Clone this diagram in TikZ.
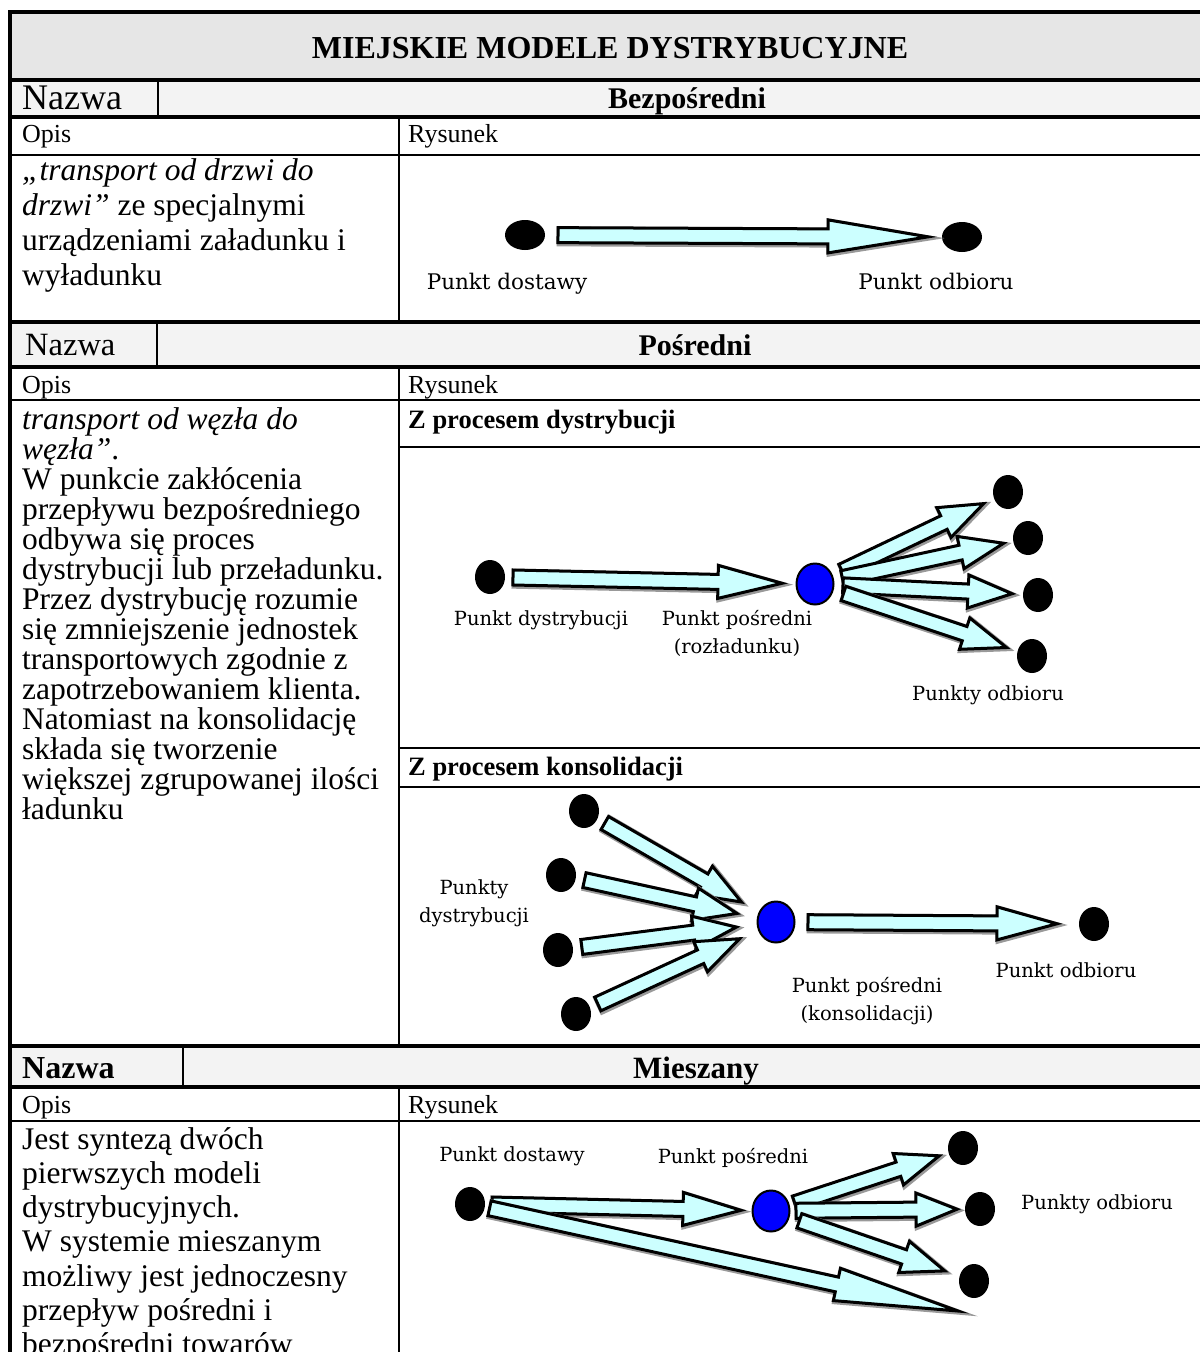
\documentclass[tikz,border=0pt]{standalone}
\usepackage{fontspec}
\setmainfont{Liberation Serif}
\newfontfamily\lblfont{DejaVu Serif}
\usetikzlibrary{calc,shapes.geometric}
\definecolor{flowcyan}{HTML}{CCFFFF}
\definecolor{headgray}{HTML}{E6E6E6}
\definecolor{rowgray}{HTML}{F3F3F3}
\newcommand{\shaftw}{7.5pt}
\newcommand{\headw}{16.5pt}
% block arrow: from, to, gap at start, gap at end, head length
\newcommand{\flowarrow}[5]{%
  \path ($(#1)!#3pt!(#2)$) coordinate (fa-t)
        ($(#2)!#4pt!(#1)$) coordinate (fa-p);
  \path ($(fa-p)!#5pt!(fa-t)$) coordinate (fa-b);
  \filldraw[flow] ($(fa-t)!\shaftw!90:(fa-p)$) -- ($(fa-b)!\shaftw!90:(fa-p)$)
    -- ($(fa-b)!\headw!90:(fa-p)$) -- (fa-p) -- ($(fa-b)!\headw!-90:(fa-p)$)
    -- ($(fa-b)!\shaftw!-90:(fa-p)$) -- ($(fa-t)!\shaftw!-90:(fa-p)$) -- cycle;
}
\begin{document}
\begin{tikzpicture}[x=1pt,y=-1pt,
  thickline/.style={line width=4pt},
  thinline/.style={line width=1.6pt},
  titletext/.style={anchor=base,inner sep=0pt,font=\bfseries\fontsize{32pt}{36pt}\selectfont},
  plain/.style={anchor=base west,inner sep=0pt,font=\fontsize{32.5pt}{34pt}\selectfont},
  body/.style={anchor=base west,inner sep=0pt,font=\fontsize{31.5pt}{34pt}\selectfont},
  caption/.style={anchor=base west,inner sep=0pt,font=\fontsize{26pt}{30pt}\selectfont},
  modelname/.style={anchor=base,inner sep=0pt,font=\bfseries\fontsize{30pt}{34pt}\selectfont},
  subhead/.style={anchor=base west,inner sep=0pt,font=\bfseries\fontsize{26.5pt}{30pt}\selectfont},
  lbl/.style={anchor=north,inner sep=0pt,align=center,font=\lblfont\fontsize{19.5pt}{28pt}\selectfont},
  lblbig/.style={lbl,font=\lblfont\fontsize{21.5pt}{28pt}\selectfont},
  dot/.style={ellipse,fill=black,inner sep=0pt,minimum width=30pt,minimum height=34pt},
  flatdot/.style={dot,minimum width=40pt,minimum height=30pt},
  hub/.style={dot,fill=blue,draw=black,line width=2pt,minimum width=37pt,minimum height=41pt},
  flow/.style={fill=flowcyan,draw=black,line width=3pt,
    preaction={draw=black!40,line width=5pt,transform canvas={shift={(1.2pt,-1.2pt)}}}}]
\useasboundingbox (0,0) rectangle (1200,1352);
% table
\fill[headgray] (10,12) rectangle (1200,80);
\fill[rowgray] (10,80) rectangle (1200,117);
\fill[rowgray] (10,322) rectangle (1200,367);
\fill[rowgray] (10,1046) rectangle (1200,1087);
\foreach \y in {12,80,117,322,367,1046,1087} {
  \draw[thickline] (8,\y) -- (1200,\y);
}
\foreach \y in {155,400,1121} {
  \draw[thinline] (10,\y) -- (1200,\y);
}
\foreach \y in {447,748,787} {
  \draw[thinline] (399,\y) -- (1200,\y);
}
\draw[thickline] (10,10) -- (10,1352);
\draw[thinline] (158,80) -- (158,117);
\draw[thinline] (157,322) -- (157,367);
\draw[thinline] (183,1046) -- (183,1087);
\draw[thinline] (399,117) -- (399,322) (399,367) -- (399,1046) (399,1087) -- (399,1352);
% headings
\node[titletext] (title) at (610,58) {MIEJSKIE MODELE DYSTRYBUCYJNE};
\node[plain,font=\fontsize{36pt}{36pt}\selectfont] (naz1) at (22,109) {Nazwa};
\node[modelname] (bez) at (687,108) {Bezpośredni};
\node[caption] (opis1) at (22,142) {Opis};
\node[caption] (rys1) at (408,142) {Rysunek};
\node[plain] (naz2) at (25,355) {Nazwa};
\node[modelname] (pos) at (695,355) {Pośredni};
\node[caption] (opis2) at (22,393) {Opis};
\node[caption] (rys2) at (408,393) {Rysunek};
\node[subhead] (zdys) at (408,428) {Z procesem dystrybucji};
\node[subhead] (zkon) at (408,775) {Z procesem konsolidacji};
\node[plain,font=\bfseries\fontsize{32pt}{34pt}\selectfont] (naz3) at (22,1078) {Nazwa};
\node[modelname,font=\bfseries\fontsize{31pt}{34pt}\selectfont] (mie) at (696,1078) {Mieszany};
\node[caption] (opis3) at (22,1113) {Opis};
\node[caption] (rys3) at (408,1113) {Rysunek};
% descriptions
\foreach \txt [count=\i] in {{\textit{„transport od drzwi do}},{\textit{drzwi”} ze specjalnymi},
    {urządzeniami załadunku i},{wyładunku}} {
  \node[body] (bez-\i) at (22,180+35*\i-35) {\txt};
}
\foreach \txt [count=\i] in {{\textit{transport od węzła do}},{\textit{węzła”}.},{W punkcie zakłócenia},
    {przepływu bezpośredniego},{odbywa się proces},{dystrybucji lub przeładunku.},
    {Przez dystrybucję rozumie},{się zmniejszenie jednostek},{transportowych zgodnie z},
    {zapotrzebowaniem klienta.},{Natomiast na konsolidację},{składa się tworzenie},
    {większej zgrupowanej ilości},{ładunku}} {
  \node[body] (pos-\i) at (22,429+30*\i-30) {\txt};
}
\foreach \txt [count=\i] in {{Jest syntezą dwóch},{pierwszych modeli},{dystrybucyjnych.},
    {W systemie mieszanym},{możliwy jest jednoczesny},{przepływ pośredni i},
    {bezpośredni towarów}} {
  \node[body] (mie-\i) at (22,1149+34.3*\i-34.3) {\txt};
}
% direct model
\node[flatdot] (dost) at (525,235) {};
\node[flatdot] (odb) at (962,237) {};
\flowarrow{dost}{odb}{33}{34}{100}
\node[lblbig] (dost-l) at (507,273) {Punkt dostawy};
\node[lblbig] (odb-l) at (936,273) {Punkt odbioru};
% distribution
\node[dot] (dys) at (490,577) {};
\node[hub] (roz) at (815,584) {};
\node[dot] (o1) at (1008,492) {};
\node[dot] (o2) at (1028,538) {};
\node[dot] (o3) at (1038,595) {};
\node[dot] (o4) at (1032,656) {};
\flowarrow{dys}{roz}{23}{33}{64}
\foreach \o/\a/\b in {o1/30/27,o2/28/25,o3/28/26,o4/30/27} {
  \flowarrow{roz}{\o}{\a}{\b}{44}
}
\node[lbl] (dys-l) at (541,610) {Punkt dystrybucji};
\node[lbl] (roz-l) at (737,610) {Punkt pośredni\\(rozładunku)};
\node[lbl] (odb2-l) at (988,685) {Punkty odbioru};
% consolidation
\node[dot] (k1) at (584,811) {};
\node[dot] (k2) at (561,875) {};
\node[dot] (k3) at (558,950) {};
\node[dot] (k4) at (576,1014) {};
\node[hub] (kon) at (776,922) {};
\node[dot] (kodb) at (1094,924) {};
\foreach \k in {k1,k2,k3,k4} {
  \flowarrow{\k}{kon}{24}{40}{43}
}
\flowarrow{kon}{kodb}{32}{37}{60}
\node[lbl] (k-l) at (474,879) {Punkty\\dystrybucji};
\node[lbl] (kon-l) at (867,977) {Punkt pośredni\\(konsolidacji)};
\node[lbl] (kodb-l) at (1066,962) {Punkt odbioru};
% mixed
\node[dot] (mdost) at (470,1204) {};
\node[hub] (mpos) at (771,1211) {};
\node[dot] (m1) at (963,1148) {};
\node[dot] (m2) at (980,1209) {};
\node[dot] (m3) at (974,1281) {};
\coordinate (mmiss) at (958,1311);
\flowarrow{mdost}{mpos}{22}{30}{58}
\flowarrow{mdost}{mmiss}{20}{0}{124}
\flowarrow{mpos}{m1}{25}{25}{43}
\flowarrow{mpos}{m2}{25}{23}{41}
\flowarrow{mpos}{m3}{30}{31}{43}
\node[lbl] (mdost-l) at (512,1146) {Punkt dostawy};
\node[lbl] (mpos-l) at (733,1148) {Punkt pośredni};
\node[lbl] (modb-l) at (1097,1194) {Punkty odbioru};
\end{tikzpicture}
\end{document}
